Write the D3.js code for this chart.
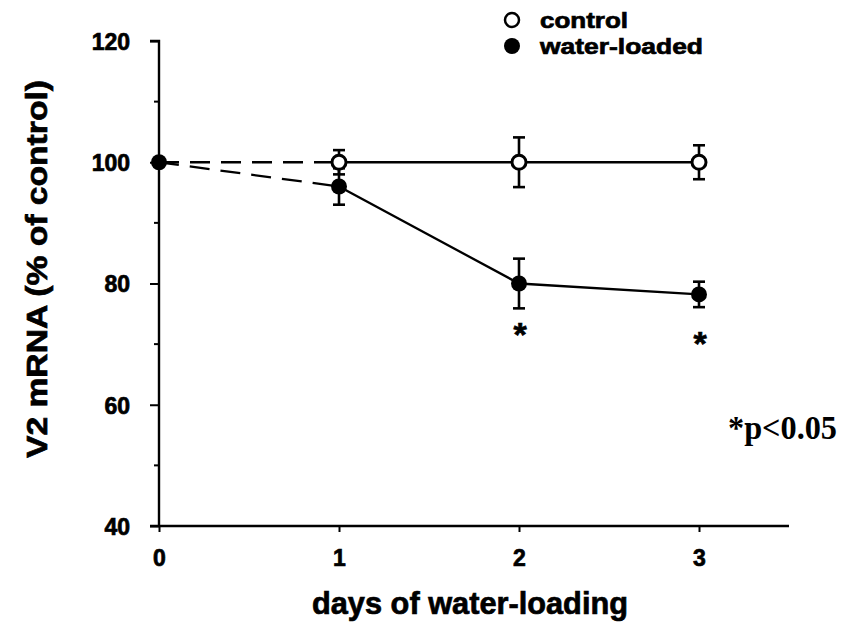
<!DOCTYPE html>
<html>
<head>
<meta charset="utf-8">
<script src="https://cdn.jsdelivr.net/npm/d3@7"></script>
<style>
  html, body { margin: 0; padding: 0; background: #fff; }
  svg { display: block; }
</style>
</head>
<body>
<svg id="chart" width="851" height="633"></svg>
<script>
// V2 mRNA expression during water-loading, % of control
const days = [0, 1, 2, 3];
const controlMean = [100, 100, 100, 100];
const controlSem = [0, 2.0, 4.1, 2.8];
const waterMean = [100, 96, 80, 78.2];
const waterSem = [0, 3.0, 4.1, 2.1];
const significantDays = [2, 3];
const xTicks = [0, 1, 2, 3];
const yTicks = [40, 60, 80, 100, 120];
const yMinorTicks = [50, 70, 90, 110];
const legendLabels = ["control", "water-loaded"];

const svg = d3.select("#chart");
const sans = "'Liberation Sans', Arial, Helvetica, sans-serif";
const serif = "'Liberation Serif', 'Times New Roman', serif";

// heavy sans text helper
function heavy(sel, size) {
  return sel.attr("font-family", sans).attr("font-weight", "bold").attr("font-size", size)
    .attr("fill", "#000").attr("stroke", "#000").attr("stroke-width", 0.7);
}

const x = d3.scaleLinear().domain([0, 3.5]).range([159, 789]);
const y = d3.scaleLinear().domain([40, 120]).range([526, 41]);

// axes
const yAxis = d3.axisLeft(y).tickValues(yTicks).tickSize(9).tickPadding(20).tickFormat(d3.format("d"));
const gy = svg.append("g").attr("transform", `translate(${x(0)},0)`).call(yAxis);
gy.select(".domain").attr("stroke", "#000").attr("stroke-width", 2.4).attr("d", `M-9,${y(120)}H0V${y(40)}H-9`);
gy.selectAll(".tick line").attr("stroke", "#000").attr("stroke-width", 2);
heavy(gy.selectAll(".tick text"), 23).attr("dy", "0.36em");
gy.selectAll(".minor").data(yMinorTicks).enter().append("line")
  .attr("x1", -5).attr("x2", 0).attr("y1", d => y(d)).attr("y2", d => y(d))
  .attr("stroke", "#000").attr("stroke-width", 2);

const xAxis = d3.axisBottom(x).tickValues(xTicks).tickSize(6).tickPadding(16).tickFormat(d3.format("d"));
const gx = svg.append("g").attr("transform", `translate(0,${y(40)})`).call(xAxis);
gx.select(".domain").attr("stroke", "#000").attr("stroke-width", 2.4).attr("d", `M${x(0)},0H${x(3.5)}`);
gx.selectAll(".tick line").attr("stroke", "#000").attr("stroke-width", 2);
heavy(gx.selectAll(".tick text"), 23).attr("dy", "0.8em");

// axis titles
heavy(svg.append("text"), 31).attr("x", 470).attr("y", 614).attr("text-anchor", "middle")
  .attr("textLength", 316).attr("lengthAdjust", "spacingAndGlyphs")
  .text("days of water-loading");
heavy(svg.append("text"), 30).attr("transform", "translate(47,269) rotate(-90)")
  .attr("text-anchor", "middle").attr("textLength", 378).attr("lengthAdjust", "spacingAndGlyphs")
  .text("V2 mRNA (% of control)");

// connecting lines: dashed from day 0 to day 1, solid afterwards
function drawSeries(means) {
  const pts = days.map((d, i) => [x(d), y(means[i])]);
  const line = d3.line();
  svg.append("path").attr("d", line(pts.slice(0, 2))).attr("fill", "none")
    .attr("stroke", "#000").attr("stroke-width", 2.3).attr("stroke-dasharray", "20,11");
  svg.append("path").attr("d", line(pts.slice(1))).attr("fill", "none")
    .attr("stroke", "#000").attr("stroke-width", 2.3);
}
drawSeries(controlMean);
drawSeries(waterMean);

// error bars
function drawErrors(means, sems) {
  const g = svg.append("g");
  days.forEach((d, i) => {
    if (!sems[i]) return;
    const cx = x(d), top = y(means[i] + sems[i]), bot = y(means[i] - sems[i]);
    g.append("line").attr("x1", cx).attr("x2", cx).attr("y1", top).attr("y2", bot)
      .attr("stroke", "#000").attr("stroke-width", 2.6);
    [top, bot].forEach(v => g.append("line").attr("x1", cx - 6).attr("x2", cx + 6)
      .attr("y1", v).attr("y2", v).attr("stroke", "#000").attr("stroke-width", 2.6));
  });
}
drawErrors(waterMean, waterSem);
drawErrors(controlMean, controlSem);

// markers
svg.append("g").selectAll("circle").data(days.slice(1)).enter().append("circle")
  .attr("cx", d => x(d)).attr("cy", (d, i) => y(controlMean[i + 1])).attr("r", 7)
  .attr("fill", "#fff").attr("stroke", "#000").attr("stroke-width", 3);
svg.append("g").selectAll("circle").data(days).enter().append("circle")
  .attr("cx", d => x(d)).attr("cy", (d, i) => y(waterMean[i])).attr("r", 8)
  .attr("fill", "#000");

// significance markers, placed below each lower error bar
const asteriskGap = { 2: 38, 3: 48 };
heavy(svg.append("g").selectAll("text").data(significantDays).enter().append("text"), 34)
  .attr("x", d => x(d) + 1).attr("y", d => y(waterMean[d] - waterSem[d]) + asteriskGap[d])
  .attr("text-anchor", "middle").text("*");
svg.append("text").attr("x", 728).attr("y", 439).attr("font-family", serif)
  .attr("font-weight", "bold").attr("font-size", 33).attr("textLength", 109)
  .attr("lengthAdjust", "spacingAndGlyphs").text("*p<0.05");

// legend
const legendWidths = [88, 163];
const legend = svg.append("g");
legendLabels.forEach((lab, i) => {
  const ly = 20 + i * 26;
  legend.append("circle").attr("cx", 512).attr("cy", ly).attr("r", i ? 8 : 7)
    .attr("fill", i ? "#000" : "#fff").attr("stroke", "#000").attr("stroke-width", i ? 0 : 2.5);
  heavy(legend.append("text"), 22).attr("x", 540).attr("y", ly + 8)
    .attr("textLength", legendWidths[i]).attr("lengthAdjust", "spacingAndGlyphs").text(lab);
});
</script>
</body>
</html>
